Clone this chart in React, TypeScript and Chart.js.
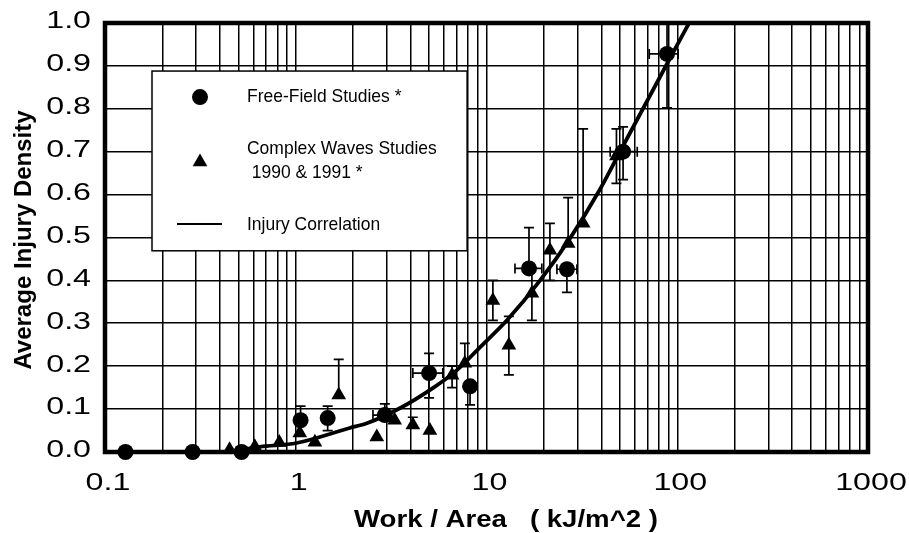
import React, { useEffect, useRef } from 'react';
import { Chart, registerables } from 'chart.js';

Chart.register(...registerables);

// ---------- data ----------
const X_DECADES = [0.1, 1, 10, 100, 1000];
const X_TICK_LABELS = ['0.1', '1', '10', '100', '1000'];
const Y_TICKS = [0, 0.1, 0.2, 0.3, 0.4, 0.5, 0.6, 0.7, 0.8, 0.9, 1.0];
const Y_TICK_LABELS = ['0.0', '0.1', '0.2', '0.3', '0.4', '0.5', '0.6', '0.7', '0.8', '0.9', '1.0'];
const X_TITLE = 'Work / Area   ( kJ/m^2 )';
const Y_TITLE = 'Average Injury Density';
const LEGEND_FF = 'Free-Field Studies *';
const LEGEND_CW_1 = 'Complex Waves Studies';
const LEGEND_CW_2 = ' 1990 & 1991 *';
const LEGEND_CORR = 'Injury Correlation';

// Free-field studies (circles)
const ffX = [0.128, 0.288, 0.52, 1.06, 1.47, 2.93, 5.0, 8.2, 16.7, 26.4, 52, 88.4];
const ffY = [0, 0, 0, 0.074, 0.079, 0.086, 0.184, 0.153, 0.428, 0.426, 0.70, 0.928];
const ffYLo = [null, null, null, null, 0.05, null, 0.126, 0.11, null, 0.372, 0.635, 0.802];
const ffYHi = [null, null, null, 0.107, 0.107, 0.112, 0.23, null, 0.523, null, 0.758, 1.05];
const ffXLo = [null, null, null, null, null, 2.54, 4.11, null, 14.1, 23.4, 44.5, 71.3];
const ffXHi = [null, null, null, null, null, null, 5.9, null, 19.5, 29.8, 61.7, 101];

// Complex waves studies 1990 & 1991 (triangles)
const cwX = [0.45, 0.61, 0.82, 1.05, 1.26, 1.68, 2.66, 3.3, 4.11, 5.05, 6.6, 7.7, 10.8, 13.1, 17.3, 21.5, 26.8, 32.1, 48];
const cwY = [0.005, 0.012, 0.022, 0.044, 0.023, 0.133, 0.035, 0.074, 0.063, 0.05, 0.179, 0.207, 0.353, 0.249, 0.37, 0.47, 0.486, 0.533, 0.69];
const cwYLo = [null, null, null, null, null, null, null, null, null, null, 0.15, null, 0.307, 0.18, 0.307, 0.40, null, null, 0.626];
const cwYHi = [null, null, null, null, null, 0.216, null, null, 0.081, null, 0.2, 0.253, 0.40, 0.316, 0.43, 0.533, 0.593, 0.753, 0.753];

// Injury correlation curve
const curveX = [0.45, 0.647, 1.01, 1.92, 2.36, 3.51, 5.23, 7.0, 9.23, 12.8, 19.1, 27.4, 39.3, 50.1, 88.4, 117];
const curveY = [0.0, 0.012, 0.021, 0.056, 0.067, 0.102, 0.149, 0.191, 0.244, 0.307, 0.40, 0.498, 0.612, 0.70, 0.905, 1.005];

const FONT = '"Liberation Sans", Arial, Helvetica, sans-serif';

function txt(ctx: CanvasRenderingContext2D, text: string, x: number, y: number, font: string, sx: number, align: CanvasTextAlign, rot = 0) {
  ctx.save();
  ctx.translate(x, y);
  if (rot) ctx.rotate(rot);
  ctx.scale(sx, 1);
  ctx.font = font;
  ctx.textAlign = align;
  ctx.textBaseline = 'middle';
  ctx.fillStyle = '#000';
  ctx.fillText(text, 0, 0);
  ctx.restore();
}

function drawErrors(ctx: CanvasRenderingContext2D, xs: any, ys: any, x: number[], y: number[], yLo: (number | null)[], yHi: (number | null)[], xLo?: (number | null)[], xHi?: (number | null)[]) {
  const cap = 5;
  for (let i = 0; i < x.length; i++) {
    const px = xs.getPixelForValue(x[i]);
    const py = ys.getPixelForValue(y[i]);
    const lo = yLo[i], hi = yHi[i];
    if (lo != null || hi != null) {
      const pLo = lo != null ? ys.getPixelForValue(lo) : py;
      const pHi = hi != null ? ys.getPixelForValue(hi) : py;
      ctx.beginPath();
      ctx.moveTo(px, pLo);
      ctx.lineTo(px, pHi);
      if (lo != null) { ctx.moveTo(px - cap, pLo); ctx.lineTo(px + cap, pLo); }
      if (hi != null) { ctx.moveTo(px - cap, pHi); ctx.lineTo(px + cap, pHi); }
      ctx.stroke();
    }
    if (xLo && xHi) {
      const l = xLo[i], h = xHi[i];
      if (l != null || h != null) {
        const qLo = l != null ? xs.getPixelForValue(l) : px;
        const qHi = h != null ? xs.getPixelForValue(h) : px;
        ctx.beginPath();
        ctx.moveTo(qLo, py);
        ctx.lineTo(qHi, py);
        if (l != null) { ctx.moveTo(qLo, py - cap); ctx.lineTo(qLo, py + cap); }
        if (h != null) { ctx.moveTo(qHi, py - cap); ctx.lineTo(qHi, py + cap); }
        ctx.stroke();
      }
    }
  }
}

const decor = {
  id: 'decor',
  beforeDatasetsDraw(chart: any) {
    const { ctx, chartArea: a } = chart;
    const xs = chart.scales.x, ys = chart.scales.y;
    ctx.save();
    ctx.strokeStyle = '#000';
    ctx.lineWidth = 4.5;
    ctx.strokeRect(a.left, a.top, a.right - a.left, a.bottom - a.top);
    ctx.beginPath();
    ctx.rect(a.left, a.top, a.right - a.left, a.bottom - a.top + 10);
    ctx.clip();
    ctx.lineWidth = 1.7;
    drawErrors(ctx, xs, ys, ffX, ffY, ffYLo, ffYHi, ffXLo, ffXHi);
    drawErrors(ctx, xs, ys, cwX, cwY, cwYLo, cwYHi);
    ctx.restore();
  },
  afterDraw(chart: any) {
    const { ctx, chartArea: a } = chart;
    const xs = chart.scales.x, ys = chart.scales.y;
    const tickFont = `23px ${FONT}`;
    Y_TICKS.forEach((v, i) => {
      txt(ctx, Y_TICK_LABELS[i], a.left - 14, ys.getPixelForValue(v) - 1, tickFont, 1.4, 'right');
    });
    X_DECADES.forEach((v, i) => {
      txt(ctx, X_TICK_LABELS[i], xs.getPixelForValue(v) + 3, a.bottom + 32, tickFont, 1.4, 'center');
    });
    txt(ctx, X_TITLE, 506, 521, `bold 23px ${FONT}`, 1.2, 'center');
    txt(ctx, Y_TITLE, 24, 240, `bold 24px ${FONT}`, 1.0, 'center', -Math.PI / 2);

    // legend box
    const w = a.right - a.left, h = a.bottom - a.top;
    const lx = a.left + w * 0.0616, ly = a.top + h * 0.112;
    const lw = w * 0.413, lh = h * 0.419;
    ctx.save();
    ctx.fillStyle = '#fff';
    ctx.fillRect(lx, ly, lw, lh);
    ctx.strokeStyle = '#000';
    ctx.lineWidth = 1.5;
    ctx.strokeRect(lx, ly, lw, lh);
    ctx.fillStyle = '#000';
    ctx.beginPath();
    ctx.arc(lx + 48, ly + 26, 8, 0, Math.PI * 2);
    ctx.fill();
    const tx = lx + 48, ty = ly + 91, r = 8.5;
    ctx.beginPath();
    ctx.moveTo(tx, ty - r);
    ctx.lineTo(tx + r * 0.866, ty + r * 0.5);
    ctx.lineTo(tx - r * 0.866, ty + r * 0.5);
    ctx.closePath();
    ctx.fill();
    ctx.lineWidth = 2;
    ctx.beginPath();
    ctx.moveTo(lx + 25, ly + 153);
    ctx.lineTo(lx + 70, ly + 153);
    ctx.stroke();
    ctx.restore();
    const lf = `19px ${FONT}`;
    txt(ctx, LEGEND_FF, lx + 95, ly + 26, lf, 0.92, 'left');
    txt(ctx, LEGEND_CW_1, lx + 95, ly + 78, lf, 0.92, 'left');
    txt(ctx, LEGEND_CW_2, lx + 95, ly + 102, lf, 0.92, 'left');
    txt(ctx, LEGEND_CORR, lx + 95, ly + 154, lf, 0.92, 'left');
  },
};

function buildXGrid(): number[] {
  const out: number[] = [];
  for (let d = 0; d < X_DECADES.length - 1; d++) {
    for (let m = 1; m <= 9; m++) out.push(X_DECADES[d] * m);
  }
  out.push(X_DECADES[X_DECADES.length - 1]);
  return out;
}

export default function App() {
  const ref = useRef<HTMLCanvasElement | null>(null);
  useEffect(() => {
    if (!ref.current) return;
    const chart = new Chart(ref.current, {
      type: 'scatter',
      data: {
        datasets: [
          {
            label: LEGEND_CORR,
            data: curveX.map((x, i) => ({ x, y: curveY[i] })),
            showLine: true,
            borderColor: '#000',
            borderWidth: 3.8,
            pointRadius: 0,
            cubicInterpolationMode: 'monotone',
            order: 3,
          } as any,
          {
            label: LEGEND_FF,
            data: ffX.map((x, i) => ({ x, y: ffY[i] })),
            pointStyle: 'circle',
            pointRadius: 8,
            backgroundColor: '#000',
            borderColor: '#000',
            borderWidth: 0,
            clip: false,
            order: 1,
          } as any,
          {
            label: LEGEND_CW_1,
            data: cwX.map((x, i) => ({ x, y: cwY[i] })),
            pointStyle: 'triangle',
            pointRadius: 8.5,
            backgroundColor: '#000',
            borderColor: '#000',
            borderWidth: 0,
            clip: false,
            order: 2,
          } as any,
        ],
      },
      options: {
        responsive: false,
        animation: false,
        devicePixelRatio: 1,
        layout: { padding: { left: 105, right: 41, top: 23, bottom: 81 } },
        plugins: { legend: { display: false }, tooltip: { enabled: false } },
        scales: {
          x: {
            type: 'logarithmic',
            min: 0.1,
            max: 1000,
            afterBuildTicks: (s: any) => { s.ticks = buildXGrid().map((v) => ({ value: v })); },
            ticks: { display: false },
            grid: { color: '#000', lineWidth: 1.5, drawTicks: false },
            border: { display: false },
          },
          y: {
            type: 'linear',
            min: 0,
            max: 1,
            afterBuildTicks: (s: any) => { s.ticks = Y_TICKS.map((v) => ({ value: v })); },
            ticks: { display: false },
            grid: { color: '#000', lineWidth: 1.6, drawTicks: false },
            border: { display: false },
          },
        },
      },
      plugins: [decor],
    } as any);
    return () => chart.destroy();
  }, []);
  return (
    <div style={{ position: 'fixed', left: 0, top: 0, width: 909, height: 533, background: '#fff' }}>
      <canvas ref={ref} width={909} height={533} />
    </div>
  );
}
